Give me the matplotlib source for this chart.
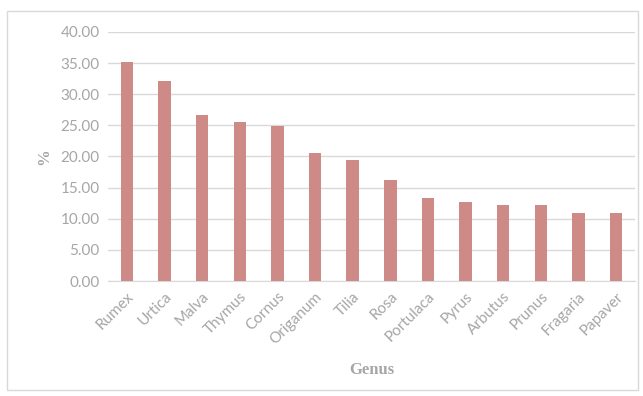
import matplotlib.pyplot as plt
import matplotlib.patches as patches
import numpy as np

genus = ["Rumex", "Urtica", "Malva", "Thymus", "Cornus", "Origanum", "Tilia",
         "Rosa", "Portulaca", "Pyrus", "Arbutus", "Prunus", "Fragaria", "Papaver"]
percent = [35.2, 32.1, 26.7, 25.5, 24.9, 20.6, 19.4, 16.3, 13.3, 12.7, 12.2, 12.2, 10.9, 10.9]
yticks = np.arange(0, 45, 5)

BAR = "#cd8a86"
GRAY = "#a6a6a6"
GRID = "#d9d9d9"

fig = plt.figure(figsize=(6.43, 3.96), dpi=100)
fig.patches.append(patches.Rectangle((7 / 643, 1 - 390 / 396), 631 / 643, 379 / 396,
                                     transform=fig.transFigure, fill=False,
                                     edgecolor="#d9d9d9", linewidth=1))
ax = fig.add_axes([0.168, 0.2904, 0.8196, 0.6288])

x = np.arange(len(genus))
ax.bar(x, percent, width=0.33, color=BAR, zorder=3)
ax.set_xlim(-0.5, len(genus) - 0.5)
ax.set_ylim(0, 40)
ax.set_yticks(yticks)
ax.set_yticklabels([f"{v:.2f}" for v in yticks], fontsize=11, color=GRAY, family="Lato")
ax.set_xticks(x)
ax.set_xticklabels(genus, rotation=45, ha="right", rotation_mode="anchor",
                   fontsize=11, color=GRAY, family="Lato")
ax.tick_params(length=0, pad=6)
ax.grid(axis="y", color=GRID, linewidth=1, zorder=0)
for s in ["top", "right", "left"]:
    ax.spines[s].set_visible(False)
ax.spines["bottom"].set_color(GRID)

ax.set_xlabel("Genus", fontsize=12, fontweight="bold", color=GRAY,
              family="Liberation Serif", labelpad=11)
ax.set_ylabel("%", fontsize=12, fontweight="bold", color=GRAY,
              family="Liberation Serif", labelpad=6)

fig.savefig("out.png", dpi=100)
